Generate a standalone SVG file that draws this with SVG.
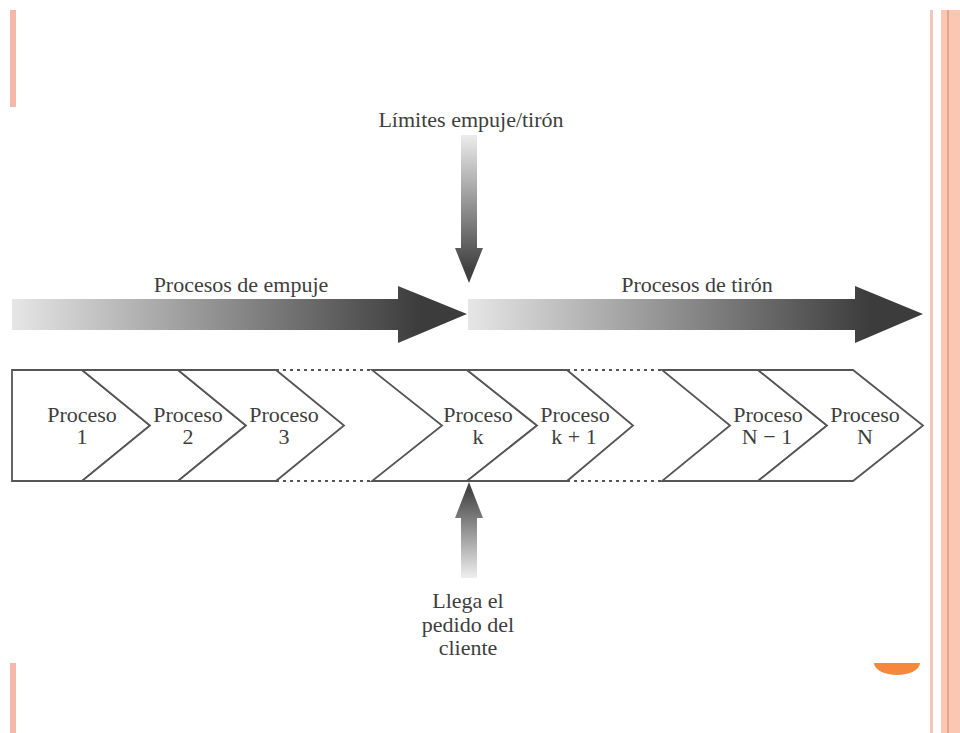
<svg xmlns="http://www.w3.org/2000/svg" width="960" height="733" viewBox="0 0 960 733">
<defs>
<style>
.t{font-family:"Liberation Serif","Times New Roman",serif;font-size:22px;fill:#3e3e3e;text-anchor:middle}
.ch{fill:#fff;stroke:#555;stroke-width:1.8;stroke-linejoin:miter}
.ln{stroke:#555;stroke-width:1.8;fill:none}
.dot{stroke:#555;stroke-width:1.8;fill:none;stroke-dasharray:3 4}
</style>
<linearGradient id="gPush" gradientUnits="userSpaceOnUse" x1="12" y1="0" x2="420" y2="0">
<stop offset="0" stop-color="#e6e6e6"/><stop offset="1" stop-color="#3c3c3c"/>
</linearGradient>
<linearGradient id="gPull" gradientUnits="userSpaceOnUse" x1="468" y1="0" x2="870" y2="0">
<stop offset="0" stop-color="#e6e6e6"/><stop offset="1" stop-color="#3c3c3c"/>
</linearGradient>
<linearGradient id="gDown" gradientUnits="userSpaceOnUse" x1="0" y1="135" x2="0" y2="270">
<stop offset="0" stop-color="#ececec"/><stop offset="1" stop-color="#404040"/>
</linearGradient>
<linearGradient id="gUp" gradientUnits="userSpaceOnUse" x1="0" y1="490" x2="0" y2="578">
<stop offset="0" stop-color="#454545"/><stop offset="1" stop-color="#efefef"/>
</linearGradient>
</defs>
<rect width="960" height="733" fill="#fff"/>
<g id="frame">
<rect x="10" y="10" width="6" height="97" fill="#f5b7a7"/>
<rect x="10" y="663" width="6" height="70" fill="#f5b7a7"/>
<rect x="930" y="10" width="3" height="723" fill="#f3c6bc"/>
<rect x="941" y="10" width="19" height="723" fill="#fbc7b3"/>
<rect x="947" y="10" width="2" height="723" fill="#e9a48c"/>
<path d="M874,663 L920,663 A23,12 0 0 1 874,663 Z" fill="#f5883a"/>
</g>
<g id="connectors">
<path id="push-arrow" d="M12,299 L398,299 L398,286 L467,314 L398,343 L398,330 L12,330 Z" fill="url(#gPush)"/>
<path id="pull-arrow" d="M468,299 L855,299 L855,286 L923,314 L855,343 L855,330 L468,330 Z" fill="url(#gPull)"/>
<path id="boundary-arrow" d="M461,135 L477,135 L477,248 L483,248 L469,283 L455,248 L461,248 Z" fill="url(#gDown)"/>
<path id="order-arrow" d="M469,482 L483,518 L477,518 L477,578 L461,578 L461,518 L455,518 Z" fill="url(#gUp)"/>
</g>
<g id="labels">
<text class="t" x="241" y="292">Procesos de empuje</text>
<text class="t" x="697" y="292">Procesos de tirón</text>
<text class="t" x="471" y="127">Límites empuje/tirón</text>
<text class="t" x="468" y="608">Llega el</text>
<text class="t" x="468" y="632">pedido del</text>
<text class="t" x="468" y="655">cliente</text>
</g>
<g id="row-lines">
<path class="dot" d="M276,370 H372 M276,481 H372 M567,370 H662 M567,481 H662"/>
</g>
<g id="p1">
<polygon class="ch" points="12,370 82,370 150,425.5 82,481 12,481"/>
<text class="t" x="82" y="422">Proceso</text><text class="t" x="82" y="444">1</text>
</g>
<g id="p2">
<polygon class="ch" points="82,370 178,370 246,425.5 178,481 82,481 150,425.5"/>
<text class="t" x="188" y="422">Proceso</text><text class="t" x="188" y="444">2</text>
</g>
<g id="p3">
<polygon class="ch" points="178,370 276,370 344,425.5 276,481 178,481 246,425.5"/>
<text class="t" x="284" y="422">Proceso</text><text class="t" x="284" y="444">3</text>
</g>
<g id="pk">
<polygon class="ch" points="372,370 467,370 537,425.5 467,481 372,481 442,425.5"/>
<text class="t" x="478" y="422">Proceso</text><text class="t" x="478" y="444">k</text>
</g>
<g id="pk1">
<polygon class="ch" points="467,370 567,370 633,425.5 567,481 467,481 537,425.5"/>
<text class="t" x="575" y="422">Proceso</text><text class="t" x="574" y="444">k + 1</text>
</g>
<g id="pn1">
<polygon class="ch" points="662,370 758,370 827,425.5 758,481 662,481 730,425.5"/>
<text class="t" x="768" y="422">Proceso</text><text class="t" x="767" y="444">N − 1</text>
</g>
<g id="pn">
<polygon class="ch" points="758,370 853,370 923,425.5 853,481 758,481 827,425.5"/>
<text class="t" x="865" y="422">Proceso</text><text class="t" x="865" y="444">N</text>
</g>
</svg>
